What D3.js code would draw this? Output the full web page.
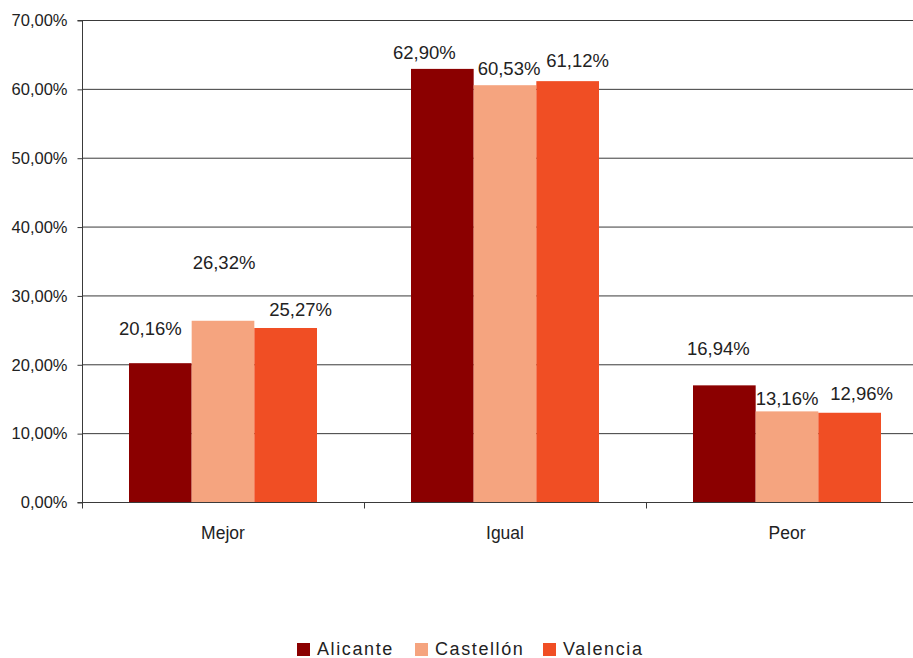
<!DOCTYPE html>
<html>
<head>
<meta charset="utf-8">
<script src="https://cdn.jsdelivr.net/npm/d3@7"></script>
<style>
    body { margin: 0; background: #fff; }
    svg { display: block; font-family: "Liberation Sans", Arial, sans-serif; }
</style>
</head>
<body>
<div id="chart"></div>
<script>
const categories = ['Mejor', 'Igual', 'Peor'];
const seriesNames = ['Alicante', 'Castellón', 'Valencia'];
const alicante = [20.16, 62.90, 16.94];
const castellon = [26.32, 60.53, 13.16];
const valencia = [25.27, 61.12, 12.96];
const yTicks = [0, 10, 20, 30, 40, 50, 60, 70];

const colors = ['#8b0000', '#f5a47f', '#f04e24'];
// label nudges (dx, dy) per series x category, the original places them unevenly
const labelNudge = [
    [[-10, -35], [-18, -16], [-6, -37]],
    [[1, -58], [4, -17], [0, -13]],
    [[15, -18], [10, -21], [12, -19]],
];

const width = 913;
const height = 658;
const margin = { top: 20, right: -15, bottom: 156, left: 82 };

const svg = d3.select('#chart').append('svg').attr('width', width).attr('height', height);

const xScale = d3.scaleBand().domain(categories).range([margin.left, width - margin.right]);
const xInner = d3.scaleBand().domain(seriesNames).range([0, xScale.bandwidth()]).paddingOuter(0.75);
const yScale = d3.scaleLinear().domain([0, 70]).range([height - margin.bottom, margin.top]);

const fmt = (v) => v.toFixed(2).replace('.', ',') + '%';

// gridlines
svg.append('g').attr('class', 'gridlines')
    .selectAll('line').data(yTicks.slice(1)).join('line')
    .attr('x1', margin.left).attr('x2', width)
    .attr('y1', (d) => yScale(d) + 0.5).attr('y2', (d) => yScale(d) + 0.5)
    .attr('stroke', '#3a3a3a').attr('stroke-width', 1);

// bars
const series = [alicante, castellon, valencia];
const rows = [];
series.forEach((vals, si) => {
    vals.forEach((v, ci) => {
        rows.push({ series: seriesNames[si], si, cat: categories[ci], ci, value: v });
    });
});

svg.append('g').selectAll('rect').data(rows).join('rect')
    .attr('x', (d) => xScale(d.cat) + xInner(d.series))
    .attr('y', (d) => yScale(d.value))
    .attr('width', xInner.bandwidth())
    .attr('height', (d) => yScale(0) - yScale(d.value))
    .attr('fill', (d) => colors[d.si]);

// value labels
svg.append('g').selectAll('text').data(rows).join('text')
    .attr('x', (d) => xScale(d.cat) + xInner(d.series) + xInner.bandwidth() / 2 + labelNudge[d.si][d.ci][0])
    .attr('y', (d) => yScale(d.value) + labelNudge[d.si][d.ci][1])
    .attr('text-anchor', 'middle')
    .attr('dominant-baseline', 'central')
    .attr('font-size', 18.5)
    .attr('fill', '#222')
    .text((d) => fmt(d.value));

// y axis
const yAxis = d3.axisLeft(yScale).tickValues(yTicks).tickSize(5).tickPadding(10)
    .tickFormat((d) => d.toFixed(2).replace('.', ',') + '%');
const gy = svg.append('g').attr('transform', `translate(${margin.left + 0.5}, 0.5)`).call(yAxis);
gy.select('.domain').attr('stroke', '#3a3a3a').attr('d', `M-5,${yScale(70)}H0V${yScale(0)}H-5`);
gy.selectAll('.tick line').attr('stroke', '#3a3a3a');
gy.selectAll('.tick text').attr('font-size', 16.5).attr('fill', '#222')
    .attr('font-family', '"Liberation Sans", Arial, sans-serif');

// x axis
const gx = svg.append('g').attr('transform', `translate(0, ${yScale(0) + 0.5})`);
gx.append('line').attr('x1', margin.left).attr('x2', width).attr('stroke', '#3a3a3a');
gx.selectAll('.ctick').data(categories).join('line').attr('class', 'ctick')
    .attr('x1', (d) => xScale(d) + 0.5).attr('x2', (d) => xScale(d) + 0.5)
    .attr('y1', 0).attr('y2', 6).attr('stroke', '#3a3a3a');
gx.selectAll('.clabel').data(categories).join('text').attr('class', 'clabel')
    .attr('x', (d) => xScale(d) + xScale.bandwidth() / 2)
    .attr('y', 36)
    .attr('text-anchor', 'middle')
    .attr('font-size', 17.5)
    .attr('fill', '#222')
    .text((d) => d);

// legend
const legendX = [297, 415, 543];
const legend = svg.append('g').attr('transform', 'translate(0, 649)');
const items = legend.selectAll('g').data(seriesNames).join('g')
    .attr('transform', (d, i) => `translate(${legendX[i]}, 0)`);
items.append('rect').attr('x', 0).attr('y', -6).attr('width', 13).attr('height', 13)
    .attr('fill', (d, i) => colors[i]);
items.append('text').attr('x', 20).attr('y', 0)
    .attr('dominant-baseline', 'central')
    .attr('font-size', 18)
    .attr('letter-spacing', 1.6)
    .attr('fill', '#222')
    .text((d) => d);
</script>
</body>
</html>
